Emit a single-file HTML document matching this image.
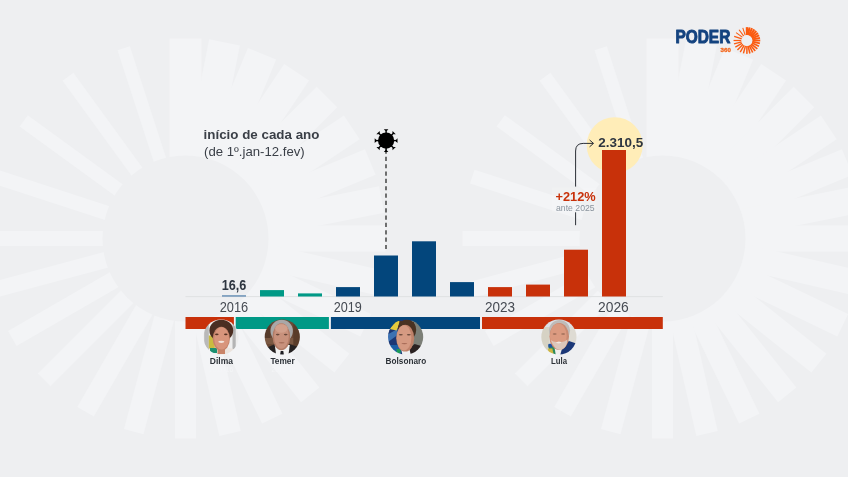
<!DOCTYPE html>
<html><head><meta charset="utf-8"><title>Poder360</title>
<style>
html,body{margin:0;padding:0;background:#eeeff1;}
body{width:848px;height:477px;overflow:hidden;position:relative;font-family:"Liberation Sans",sans-serif;}
</style></head><body>
<svg width="848" height="477" viewBox="0 0 848 477" style="position:absolute;left:0;top:0">
<rect width="848" height="477" fill="#eeeff1"/>
<g fill="#f3f4f6"><rect x="-16.00" y="-200" width="32.00" height="150" transform="translate(185.5 238.5) rotate(0.000)"/><rect x="-15.64" y="-200" width="31.28" height="150" transform="translate(185.5 238.5) rotate(11.250)"/><rect x="-15.28" y="-200" width="30.56" height="150" transform="translate(185.5 238.5) rotate(22.500)"/><rect x="-14.92" y="-200" width="29.84" height="150" transform="translate(185.5 238.5) rotate(33.750)"/><rect x="-14.56" y="-200" width="29.12" height="150" transform="translate(185.5 238.5) rotate(45.000)"/><rect x="-14.20" y="-200" width="28.40" height="150" transform="translate(185.5 238.5) rotate(56.250)"/><rect x="-13.84" y="-200" width="27.68" height="150" transform="translate(185.5 238.5) rotate(67.500)"/><rect x="-13.48" y="-200" width="26.96" height="150" transform="translate(185.5 238.5) rotate(78.750)"/><rect x="-13.12" y="-200" width="26.24" height="150" transform="translate(185.5 238.5) rotate(90.000)"/><rect x="-12.76" y="-200" width="25.52" height="150" transform="translate(185.5 238.5) rotate(102.857)"/><rect x="-12.40" y="-200" width="24.80" height="150" transform="translate(185.5 238.5) rotate(115.714)"/><rect x="-12.04" y="-200" width="24.08" height="150" transform="translate(185.5 238.5) rotate(128.571)"/><rect x="-11.68" y="-200" width="23.36" height="150" transform="translate(185.5 238.5) rotate(141.429)"/><rect x="-11.32" y="-200" width="22.64" height="150" transform="translate(185.5 238.5) rotate(154.286)"/><rect x="-10.96" y="-200" width="21.92" height="150" transform="translate(185.5 238.5) rotate(167.143)"/><rect x="-10.60" y="-200" width="21.20" height="150" transform="translate(185.5 238.5) rotate(180.000)"/><rect x="-10.08" y="-200" width="20.17" height="150" transform="translate(185.5 238.5) rotate(195.000)"/><rect x="-9.57" y="-200" width="19.14" height="150" transform="translate(185.5 238.5) rotate(210.000)"/><rect x="-9.05" y="-200" width="18.11" height="150" transform="translate(185.5 238.5) rotate(225.000)"/><rect x="-8.54" y="-200" width="17.08" height="150" transform="translate(185.5 238.5) rotate(240.000)"/><rect x="-8.02" y="-200" width="16.05" height="150" transform="translate(185.5 238.5) rotate(255.000)"/><rect x="-7.51" y="-200" width="15.02" height="150" transform="translate(185.5 238.5) rotate(270.000)"/><rect x="-7.25" y="-200" width="14.50" height="150" transform="translate(185.5 238.5) rotate(288.000)"/><rect x="-7.00" y="-200" width="14.00" height="150" transform="translate(185.5 238.5) rotate(306.000)"/><rect x="-6.75" y="-200" width="13.50" height="150" transform="translate(185.5 238.5) rotate(324.000)"/><rect x="-6.50" y="-200" width="13.00" height="150" transform="translate(185.5 238.5) rotate(342.000)"/></g><circle cx="185.5" cy="238.5" r="83" fill="#eeeff1"/>
<g fill="#f3f4f6"><rect x="-16.00" y="-200" width="32.00" height="150" transform="translate(662.5 238.5) rotate(0.000)"/><rect x="-15.64" y="-200" width="31.28" height="150" transform="translate(662.5 238.5) rotate(11.250)"/><rect x="-15.28" y="-200" width="30.56" height="150" transform="translate(662.5 238.5) rotate(22.500)"/><rect x="-14.92" y="-200" width="29.84" height="150" transform="translate(662.5 238.5) rotate(33.750)"/><rect x="-14.56" y="-200" width="29.12" height="150" transform="translate(662.5 238.5) rotate(45.000)"/><rect x="-14.20" y="-200" width="28.40" height="150" transform="translate(662.5 238.5) rotate(56.250)"/><rect x="-13.84" y="-200" width="27.68" height="150" transform="translate(662.5 238.5) rotate(67.500)"/><rect x="-13.48" y="-200" width="26.96" height="150" transform="translate(662.5 238.5) rotate(78.750)"/><rect x="-13.12" y="-200" width="26.24" height="150" transform="translate(662.5 238.5) rotate(90.000)"/><rect x="-12.76" y="-200" width="25.52" height="150" transform="translate(662.5 238.5) rotate(102.857)"/><rect x="-12.40" y="-200" width="24.80" height="150" transform="translate(662.5 238.5) rotate(115.714)"/><rect x="-12.04" y="-200" width="24.08" height="150" transform="translate(662.5 238.5) rotate(128.571)"/><rect x="-11.68" y="-200" width="23.36" height="150" transform="translate(662.5 238.5) rotate(141.429)"/><rect x="-11.32" y="-200" width="22.64" height="150" transform="translate(662.5 238.5) rotate(154.286)"/><rect x="-10.96" y="-200" width="21.92" height="150" transform="translate(662.5 238.5) rotate(167.143)"/><rect x="-10.60" y="-200" width="21.20" height="150" transform="translate(662.5 238.5) rotate(180.000)"/><rect x="-10.08" y="-200" width="20.17" height="150" transform="translate(662.5 238.5) rotate(195.000)"/><rect x="-9.57" y="-200" width="19.14" height="150" transform="translate(662.5 238.5) rotate(210.000)"/><rect x="-9.05" y="-200" width="18.11" height="150" transform="translate(662.5 238.5) rotate(225.000)"/><rect x="-8.54" y="-200" width="17.08" height="150" transform="translate(662.5 238.5) rotate(240.000)"/><rect x="-8.02" y="-200" width="16.05" height="150" transform="translate(662.5 238.5) rotate(255.000)"/><rect x="-7.51" y="-200" width="15.02" height="150" transform="translate(662.5 238.5) rotate(270.000)"/><rect x="-7.25" y="-200" width="14.50" height="150" transform="translate(662.5 238.5) rotate(288.000)"/><rect x="-7.00" y="-200" width="14.00" height="150" transform="translate(662.5 238.5) rotate(306.000)"/><rect x="-6.75" y="-200" width="13.50" height="150" transform="translate(662.5 238.5) rotate(324.000)"/><rect x="-6.50" y="-200" width="13.00" height="150" transform="translate(662.5 238.5) rotate(342.000)"/></g><circle cx="662.5" cy="238.5" r="83" fill="#eeeff1"/>
<circle cx="614.7" cy="145.2" r="28" fill="#ffedb8"/>
<rect x="552" y="187.5" width="44.5" height="25" fill="#ffffff" opacity="0.13"/>
<rect x="185.5" y="296.1" width="477.3" height="1" fill="#dfe1e3"/>
<rect x="222" y="295.4" width="24" height="1.1" fill="#3f73a3"/><rect x="260" y="290.1" width="24" height="6.4" fill="#009986"/><rect x="298" y="293.4" width="24" height="3.1" fill="#009986"/><rect x="336" y="287.1" width="24" height="9.4" fill="#03467c"/><rect x="374" y="255.5" width="24" height="41.0" fill="#03467c"/><rect x="412" y="241.3" width="24" height="55.2" fill="#03467c"/><rect x="450" y="282.1" width="24" height="14.4" fill="#03467c"/><rect x="488" y="287.1" width="24" height="9.4" fill="#c8310a"/><rect x="526" y="284.6" width="24" height="11.9" fill="#c8310a"/><rect x="564" y="249.7" width="24" height="46.8" fill="#c8310a"/><rect x="602" y="150.0" width="24" height="146.5" fill="#c8310a"/>
<rect x="185.5" y="317" width="48.4" height="12" fill="#c8310a"/>
<rect x="235.7" y="317" width="93.2" height="12" fill="#009986"/>
<rect x="330.9" y="317" width="149.1" height="12" fill="#03467c"/>
<rect x="482" y="317" width="180.8" height="12" fill="#c8310a"/>
<line x1="386" y1="149.46" x2="386" y2="249" stroke="#2a2a2a" stroke-width="1.3" stroke-dasharray="4.2 3.14"/>
<g transform="translate(386.1 140.6)" fill="#000" stroke="#000"><circle r="8.1" stroke="none"/><g transform="rotate(0)"><line x1="0" y1="-7" x2="0" y2="-10.6" stroke-width="1.4"/><path d="M-2.3 -11.4 H2.3 L0.9 -9.9 H-0.9 Z" stroke="none"/></g><g transform="rotate(45)"><line x1="0" y1="-7" x2="0" y2="-10.6" stroke-width="1.4"/><path d="M-2.3 -11.4 H2.3 L0.9 -9.9 H-0.9 Z" stroke="none"/></g><g transform="rotate(90)"><line x1="0" y1="-7" x2="0" y2="-10.6" stroke-width="1.4"/><path d="M-2.3 -11.4 H2.3 L0.9 -9.9 H-0.9 Z" stroke="none"/></g><g transform="rotate(135)"><line x1="0" y1="-7" x2="0" y2="-10.6" stroke-width="1.4"/><path d="M-2.3 -11.4 H2.3 L0.9 -9.9 H-0.9 Z" stroke="none"/></g><g transform="rotate(180)"><line x1="0" y1="-7" x2="0" y2="-10.6" stroke-width="1.4"/><path d="M-2.3 -11.4 H2.3 L0.9 -9.9 H-0.9 Z" stroke="none"/></g><g transform="rotate(225)"><line x1="0" y1="-7" x2="0" y2="-10.6" stroke-width="1.4"/><path d="M-2.3 -11.4 H2.3 L0.9 -9.9 H-0.9 Z" stroke="none"/></g><g transform="rotate(270)"><line x1="0" y1="-7" x2="0" y2="-10.6" stroke-width="1.4"/><path d="M-2.3 -11.4 H2.3 L0.9 -9.9 H-0.9 Z" stroke="none"/></g><g transform="rotate(315)"><line x1="0" y1="-7" x2="0" y2="-10.6" stroke-width="1.4"/><path d="M-2.3 -11.4 H2.3 L0.9 -9.9 H-0.9 Z" stroke="none"/></g></g>
<path d="M575.6 225.2 V212.3 M575.6 186.6 V151 Q575.6 143.4 583.2 143.4 H593.3" fill="none" stroke="#2b2f36" stroke-width="1"/>
<path d="M589.6 140 L593.5 143.4 L589.6 146.8" fill="none" stroke="#2b2f36" stroke-width="1"/>
<g transform="translate(746.9 40.5) scale(0.06675)" fill="#fb5b10"><rect x="-16.50" y="-200" width="33.00" height="120" transform="rotate(0.000)"/><rect x="-16.15" y="-200" width="32.30" height="120" transform="rotate(11.250)"/><rect x="-15.80" y="-200" width="31.60" height="120" transform="rotate(22.500)"/><rect x="-15.45" y="-200" width="30.90" height="120" transform="rotate(33.750)"/><rect x="-15.10" y="-200" width="30.20" height="120" transform="rotate(45.000)"/><rect x="-14.75" y="-200" width="29.50" height="120" transform="rotate(56.250)"/><rect x="-14.40" y="-200" width="28.80" height="120" transform="rotate(67.500)"/><rect x="-14.05" y="-200" width="28.10" height="120" transform="rotate(78.750)"/><rect x="-13.70" y="-200" width="27.40" height="120" transform="rotate(90.000)"/><rect x="-13.35" y="-200" width="26.70" height="120" transform="rotate(102.857)"/><rect x="-13.00" y="-200" width="26.00" height="120" transform="rotate(115.714)"/><rect x="-12.65" y="-200" width="25.30" height="120" transform="rotate(128.571)"/><rect x="-12.30" y="-200" width="24.60" height="120" transform="rotate(141.429)"/><rect x="-11.95" y="-200" width="23.90" height="120" transform="rotate(154.286)"/><rect x="-11.60" y="-200" width="23.20" height="120" transform="rotate(167.143)"/><rect x="-11.25" y="-200" width="22.50" height="120" transform="rotate(180.000)"/><rect x="-10.90" y="-200" width="21.80" height="120" transform="rotate(195.000)"/><rect x="-10.55" y="-200" width="21.10" height="120" transform="rotate(210.000)"/><rect x="-10.20" y="-200" width="20.40" height="120" transform="rotate(225.000)"/><rect x="-9.85" y="-200" width="19.70" height="120" transform="rotate(240.000)"/><rect x="-9.50" y="-200" width="19.00" height="120" transform="rotate(255.000)"/><rect x="-9.15" y="-200" width="18.30" height="120" transform="rotate(270.000)"/><rect x="-8.80" y="-200" width="17.60" height="120" transform="rotate(288.000)"/><rect x="-8.45" y="-200" width="16.90" height="120" transform="rotate(306.000)"/><rect x="-8.10" y="-200" width="16.20" height="120" transform="rotate(324.000)"/><rect x="-7.75" y="-200" width="15.50" height="120" transform="rotate(342.000)"/></g>
<circle cx="746.9" cy="40.5" r="5.45" fill="#eeeff1"/>
<g font-family="Liberation Sans, sans-serif" style="opacity:0.999">
<text x="675.4" y="43.2" font-size="19" font-weight="bold" fill="#14437f" textLength="54.9" lengthAdjust="spacingAndGlyphs" stroke="#14437f" stroke-width="1" stroke-linejoin="round">PODER</text>
<text x="720.6" y="51.6" font-size="5.6" font-weight="bold" fill="#f4661b" textLength="10.2" lengthAdjust="spacingAndGlyphs" stroke="#f4661b" stroke-width="0.3">360</text>
<text x="203.6" y="139" font-size="13" font-weight="bold" fill="#3a3f47" textLength="115.8" lengthAdjust="spacingAndGlyphs">início de cada ano</text>
<text x="204" y="156" font-size="13" fill="#3a3f47" textLength="100.7" lengthAdjust="spacingAndGlyphs">(de 1º.jan-12.fev)</text>
<text x="221.8" y="289.8" font-size="13.8" font-weight="bold" fill="#2d3540" textLength="24.6" lengthAdjust="spacingAndGlyphs">16,6</text>
<text x="598.3" y="146.5" font-size="13.6" font-weight="bold" fill="#2d3540" textLength="44.9" lengthAdjust="spacingAndGlyphs">2.310,5</text>
<text x="555.5" y="201.2" font-size="12" font-weight="bold" fill="#c8310a" textLength="40.2" lengthAdjust="spacingAndGlyphs">+212%</text>
<text x="556" y="211.3" font-size="8.4" fill="#8a949e" textLength="38.7" lengthAdjust="spacingAndGlyphs">ante 2025</text>
<text x="219.7" y="311.7" font-size="14.3" fill="#454a52" textLength="28.5" lengthAdjust="spacingAndGlyphs">2016</text>
<text x="333.7" y="311.7" font-size="14.3" fill="#454a52" textLength="28.1" lengthAdjust="spacingAndGlyphs">2019</text>
<text x="485" y="311.7" font-size="14.3" fill="#454a52" textLength="30" lengthAdjust="spacingAndGlyphs">2023</text>
<text x="598" y="311.7" font-size="14.3" fill="#454a52" textLength="30.8" lengthAdjust="spacingAndGlyphs">2026</text>
<text x="209.8" y="363.8" font-size="8.6" font-weight="bold" fill="#2d3238" textLength="23.1" lengthAdjust="spacingAndGlyphs">Dilma</text>
<text x="270.4" y="363.8" font-size="8.6" font-weight="bold" fill="#2d3238" textLength="24.3" lengthAdjust="spacingAndGlyphs">Temer</text>
<text x="385.6" y="363.8" font-size="8.6" font-weight="bold" fill="#2d3238" textLength="40.6" lengthAdjust="spacingAndGlyphs">Bolsonaro</text>
<text x="551" y="363.8" font-size="8.6" font-weight="bold" fill="#2d3238" textLength="16" lengthAdjust="spacingAndGlyphs">Lula</text>
<text x="209.2" y="371.6" font-size="7.5" fill="#f4f5f7" textLength="24" lengthAdjust="spacingAndGlyphs">2011-16</text>
<text x="271.5" y="371.6" font-size="7.5" fill="#f4f5f7" textLength="24" lengthAdjust="spacingAndGlyphs">2016-18</text>
</g>
<defs><clipPath id="pc"><circle r="17.6"/></clipPath><filter id="pb" x="-10%" y="-10%" width="120%" height="120%"><feGaussianBlur stdDeviation="0.45"/></filter></defs><g transform="translate(221 337)" clip-path="url(#pc)"><g filter="url(#pb)"><rect x="-19" y="-19" width="38" height="38" fill="#eeeeee"/><rect x="-16.8" y="-19" width="4.6" height="38" fill="#b9b9b9"/><rect x="11.5" y="-19" width="3.2" height="38" fill="#b4b4b4"/><rect x="-12.2" y="-1.5" width="6" height="13" fill="#c9bb3f"/><rect x="-11" y="11" width="7" height="5" fill="#1f9070"/><path d="M4 10 L17 13 L17 19 L-6 19 Z" fill="#ece4de"/><ellipse cx="0.3" cy="-6.5" rx="11.9" ry="10.8" fill="#4b2f22"/><rect x="-3.5" y="8" width="7.5" height="9" fill="#c98467"/><ellipse cx="0.3" cy="1.8" rx="8.6" ry="12" fill="#c4836a"/><ellipse cx="0.6" cy="1.4" rx="7.4" ry="11.2" fill="#d8957b"/><path d="M-8.6 -5 Q-7.5 -13.5 0 -13 Q8 -13.5 9.2 -4 Q10 -10 7 -15 L-7 -15 Z" fill="#4b2f22"/><ellipse cx="-4.2" cy="-2.6" rx="1.8" ry="0.8" fill="#5a3528"/><ellipse cx="4.8" cy="-2.6" rx="1.8" ry="0.8" fill="#5a3528"/><ellipse cx="0.3" cy="4.8" rx="3.1" ry="1.1" fill="#f3e4dc"/></g></g><g transform="translate(282.3 337)" clip-path="url(#pc)"><g filter="url(#pb)"><rect x="-19" y="-19" width="38" height="38" fill="#6a4935"/><rect x="-19" y="1" width="38" height="6" fill="#7a5943"/><rect x="-19" y="-19" width="7" height="20" fill="#573a2a"/><rect x="11" y="-19" width="8" height="38" fill="#5a3d2c"/><path d="M-19 19 L-19 12 L-7 7 L0 19 Z" fill="#262424"/><path d="M19 19 L19 11 L7 7 L0 19 Z" fill="#262424"/><path d="M-7.5 8 L7.5 8 L6 19 L-6 19 Z" fill="#f2f2f2"/><path d="M-1.6 14 L1 14 L1.8 19 L-2.4 19 Z" fill="#1f1f22"/><ellipse cx="-0.6" cy="-6" rx="11.2" ry="11.2" fill="#a9a8a8"/><ellipse cx="-0.9" cy="-0.3" rx="8.8" ry="13.5" fill="#b27b66"/><ellipse cx="-0.9" cy="-0.8" rx="7.4" ry="12.6" fill="#c8917b"/><ellipse cx="-0.9" cy="-8.5" rx="6.3" ry="4.2" fill="#d2a08c"/><ellipse cx="-4.6" cy="-2.4" rx="1.9" ry="0.8" fill="#6b4a3c"/><ellipse cx="3.4" cy="-2.4" rx="1.9" ry="0.8" fill="#6b4a3c"/><ellipse cx="-0.7" cy="5.8" rx="3" ry="0.7" fill="#a8705c"/></g></g><g transform="translate(405.6 337)" clip-path="url(#pc)"><g filter="url(#pb)"><rect x="-19" y="-19" width="38" height="38" fill="#1b3874"/><path d="M-19 -2 L-8 -8 L-8 -2 L-19 6 Z" fill="#3d72b3"/><path d="M-16 -8 L-8.5 -17 L-5 -15 L-9 -6.5 Z" fill="#e3cb3c"/><rect x="-19" y="8" width="14" height="11" fill="#1d5fa5"/><rect x="-9" y="12" width="4" height="4" fill="#1e9a58"/><rect x="6" y="-19" width="14" height="38" fill="#7b7f77"/><path d="M3 12 L9 7 L19 10 L19 19 L2 19 Z" fill="#2a2022"/><path d="M-4.5 12 L3.5 11 L5.5 19 L-3 19 Z" fill="#eef0f2"/><ellipse cx="1.4" cy="-7" rx="9.2" ry="10.5" fill="#4a3224"/><ellipse cx="-0.4" cy="1.2" rx="9" ry="13.4" fill="#bf826a"/><ellipse cx="-1.6" cy="0.8" rx="7.4" ry="12.6" fill="#d59a82"/><path d="M-8 -8 Q-5 -13.5 2 -12.5 Q7.5 -12 8.8 -4 Q10.5 -10 8 -15 L-6 -16 Z" fill="#4a3224"/><ellipse cx="-4.8" cy="-2.2" rx="2" ry="0.8" fill="#6a4a3c"/><ellipse cx="3.2" cy="-2.2" rx="2" ry="0.8" fill="#6a4a3c"/><ellipse cx="-1.2" cy="6.6" rx="3" ry="0.7" fill="#a86c58"/></g></g><g transform="translate(558.9 337)" clip-path="url(#pc)"><g filter="url(#pb)"><rect x="-19" y="-19" width="38" height="38" fill="#dedbd3"/><rect x="-19" y="-19" width="9" height="38" fill="#d6d2c4"/><rect x="-19" y="-19" width="38" height="9" fill="#dce1e6"/><path d="M2 12 L10 4 L19 7 L19 19 L0 19 Z" fill="#1b3878"/><path d="M-5 12 L3 12 L1 19 L-5 19 Z" fill="#f0eeec"/><path d="M-10.5 8 L-5 6.5 L-3 19 L-9 19 Z" fill="#2b8a5c"/><path d="M-11 11.5 L-6.5 11.5 L-5 19 L-10 19 Z" fill="#cdb642"/><path d="M-10.5 7 L-7 6.5 L-6.5 10.5 L-10.5 10.5 Z" fill="#2453a3"/><ellipse cx="0.6" cy="-6.5" rx="10.6" ry="10.6" fill="#bfbbb8"/><ellipse cx="0.3" cy="-0.5" rx="9.8" ry="13.4" fill="#c98a72"/><ellipse cx="-0.6" cy="-1" rx="8.4" ry="12.4" fill="#db9a80"/><path d="M-8.2 3 Q-4 6 0 4.5 Q5 6 8.5 2.5 Q8.5 10 2.5 13 Q-4 14 -8.2 3 Z" fill="#dcc6bb"/><ellipse cx="-0.2" cy="5.6" rx="2.6" ry="0.8" fill="#f1e6df"/><ellipse cx="-4.2" cy="-3" rx="2" ry="0.8" fill="#9a6a56"/><ellipse cx="4.2" cy="-3" rx="2" ry="0.8" fill="#9a6a56"/></g></g>
</svg>
</body></html>
